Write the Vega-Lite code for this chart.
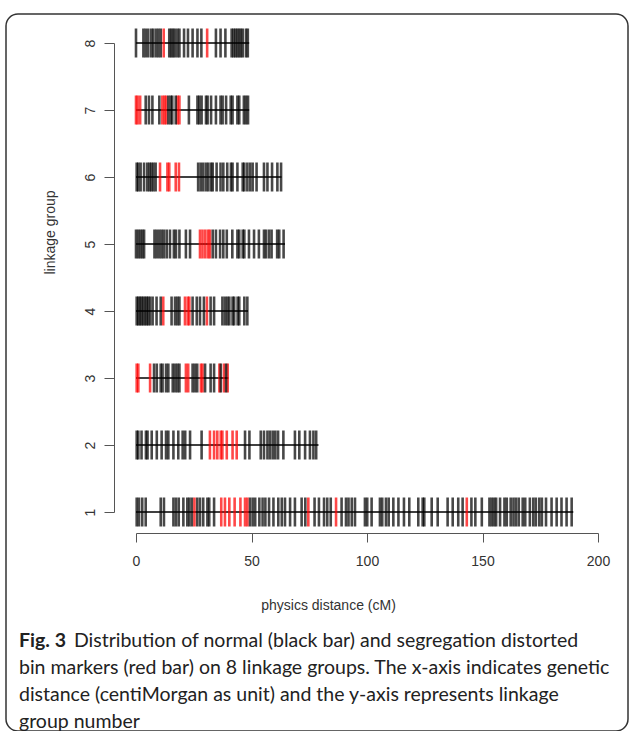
{
  "$schema": "https://vega.github.io/schema/vega-lite/v6.json",
  "autosize": {"type": "none"},
  "width": 622,
  "height": 717,
  "padding": {"left": 6, "top": 14, "right": 5, "bottom": 0},
  "background": "white",
  "config": {
    "view": {"stroke": "#333", "strokeWidth": 1.5, "cornerRadius": 12},
    "axis": {"grid": false}
  },
  "title": {
    "text": "Fig. 3",
    "subtitle": [
      "\u200b\u00a0\u00a0\u00a0\u00a0\u00a0\u00a0\u00a0\u00a0\u00a0\u00a0\u00a0Distribution of normal (black bar) and segregation distorted",
      "bin markers (red bar) on 8 linkage groups. The x-axis indicates genetic",
      "distance (centiMorgan as unit) and the y-axis represents linkage",
      "group number"
    ],
    "orient": "bottom",
    "anchor": "start",
    "frame": "group",
    "offset": -99,
    "dx": 13,
    "font": "Lato",
    "fontSize": 19.5,
    "fontWeight": "bold",
    "color": "#222",
    "subtitleFont": "Lato",
    "subtitleFontSize": 19.5,
    "subtitleFontWeight": "normal",
    "subtitleColor": "#222",
    "subtitleLineHeight": 27,
    "subtitlePadding": -19.5
  },
  "datasets": {
    "groups": [
      {"g": 1, "start": 0, "end": 189.3},
      {"g": 2, "start": 0, "end": 79},
      {"g": 3, "start": 0, "end": 40},
      {"g": 4, "start": 0, "end": 48.5},
      {"g": 5, "start": 0, "end": 64.5},
      {"g": 6, "start": 0, "end": 63},
      {"g": 7, "start": 0, "end": 49},
      {"g": 8, "start": 0, "end": 49}
    ],
    "markers": [
      {"g": 8, "x": 0, "t": "n"}, {"g": 8, "x": 3.2, "t": "n"}, {"g": 8, "x": 4.2, "t": "n"}, {"g": 8, "x": 5.3, "t": "n"}, {"g": 8, "x": 6.6, "t": "n"}, {"g": 8, "x": 7.5, "t": "n"}, {"g": 8, "x": 8.7, "t": "n"}, {"g": 8, "x": 9.7, "t": "n"}, {"g": 8, "x": 10.7, "t": "n"}, {"g": 8, "x": 14.4, "t": "n"}, {"g": 8, "x": 15.2, "t": "n"}, {"g": 8, "x": 16.0, "t": "n"}, {"g": 8, "x": 16.8, "t": "n"}, {"g": 8, "x": 17.9, "t": "n"}, {"g": 8, "x": 18.8, "t": "n"}, {"g": 8, "x": 20.8, "t": "n"}, {"g": 8, "x": 22.5, "t": "n"}, {"g": 8, "x": 24.5, "t": "n"}, {"g": 8, "x": 26.6, "t": "n"}, {"g": 8, "x": 28.3, "t": "n"}, {"g": 8, "x": 34.6, "t": "n"}, {"g": 8, "x": 36.6, "t": "n"}, {"g": 8, "x": 38.7, "t": "n"}, {"g": 8, "x": 41.4, "t": "n"}, {"g": 8, "x": 42.2, "t": "n"}, {"g": 8, "x": 43.0, "t": "n"}, {"g": 8, "x": 43.8, "t": "n"}, {"g": 8, "x": 44.6, "t": "n"}, {"g": 8, "x": 45.4, "t": "n"}, {"g": 8, "x": 46.2, "t": "n"}, {"g": 8, "x": 47.6, "t": "n"}, {"g": 8, "x": 48.4, "t": "n"},
      {"g": 8, "x": 12.0, "t": "d"}, {"g": 8, "x": 30.8, "t": "d"},
      {"g": 7, "x": 0, "t": "d"}, {"g": 7, "x": 0.7, "t": "d"}, {"g": 7, "x": 1.8, "t": "d"}, {"g": 7, "x": 11.4, "t": "d"}, {"g": 7, "x": 12.3, "t": "d"}, {"g": 7, "x": 13.0, "t": "d"}, {"g": 7, "x": 18.0, "t": "d"}, {"g": 7, "x": 18.8, "t": "d"},
      {"g": 7, "x": 4.2, "t": "n"}, {"g": 7, "x": 5.6, "t": "n"}, {"g": 7, "x": 7.1, "t": "n"}, {"g": 7, "x": 10.1, "t": "n"}, {"g": 7, "x": 14.0, "t": "n"}, {"g": 7, "x": 15.0, "t": "n"}, {"g": 7, "x": 15.7, "t": "n"}, {"g": 7, "x": 17.2, "t": "n"}, {"g": 7, "x": 22.9, "t": "n"}, {"g": 7, "x": 26.6, "t": "n"}, {"g": 7, "x": 27.4, "t": "n"}, {"g": 7, "x": 28.4, "t": "n"}, {"g": 7, "x": 30.3, "t": "n"}, {"g": 7, "x": 31.0, "t": "n"}, {"g": 7, "x": 32.5, "t": "n"}, {"g": 7, "x": 34.6, "t": "n"}, {"g": 7, "x": 36.6, "t": "n"}, {"g": 7, "x": 37.5, "t": "n"}, {"g": 7, "x": 39.0, "t": "n"}, {"g": 7, "x": 41.0, "t": "n"}, {"g": 7, "x": 41.8, "t": "n"}, {"g": 7, "x": 43.9, "t": "n"}, {"g": 7, "x": 44.7, "t": "n"}, {"g": 7, "x": 46.7, "t": "n"}, {"g": 7, "x": 47.6, "t": "n"}, {"g": 7, "x": 48.5, "t": "n"},
      {"g": 6, "x": 0.3, "t": "n"}, {"g": 6, "x": 1.0, "t": "n"}, {"g": 6, "x": 2.0, "t": "n"}, {"g": 6, "x": 3.5, "t": "n"}, {"g": 6, "x": 4.9, "t": "n"}, {"g": 6, "x": 5.8, "t": "n"}, {"g": 6, "x": 6.6, "t": "n"}, {"g": 6, "x": 7.5, "t": "n"}, {"g": 6, "x": 8.5, "t": "n"}, {"g": 6, "x": 26.9, "t": "n"}, {"g": 6, "x": 28.0, "t": "n"}, {"g": 6, "x": 29.1, "t": "n"}, {"g": 6, "x": 30.3, "t": "n"}, {"g": 6, "x": 31.3, "t": "n"}, {"g": 6, "x": 32.5, "t": "n"}, {"g": 6, "x": 33.2, "t": "n"}, {"g": 6, "x": 34.9, "t": "n"}, {"g": 6, "x": 36.6, "t": "n"}, {"g": 6, "x": 37.8, "t": "n"}, {"g": 6, "x": 39.5, "t": "n"}, {"g": 6, "x": 41.1, "t": "n"}, {"g": 6, "x": 41.8, "t": "n"}, {"g": 6, "x": 43.9, "t": "n"}, {"g": 6, "x": 46.2, "t": "n"}, {"g": 6, "x": 46.9, "t": "n"}, {"g": 6, "x": 48.2, "t": "n"}, {"g": 6, "x": 49.4, "t": "n"}, {"g": 6, "x": 50.5, "t": "n"}, {"g": 6, "x": 52.2, "t": "n"}, {"g": 6, "x": 55.4, "t": "n"}, {"g": 6, "x": 56.9, "t": "n"}, {"g": 6, "x": 58.9, "t": "n"}, {"g": 6, "x": 61.2, "t": "n"}, {"g": 6, "x": 62.8, "t": "n"},
      {"g": 6, "x": 10.4, "t": "d"}, {"g": 6, "x": 13.6, "t": "d"}, {"g": 6, "x": 14.4, "t": "d"}, {"g": 6, "x": 17.2, "t": "d"}, {"g": 6, "x": 18.6, "t": "d"},
      {"g": 5, "x": 0, "t": "n"}, {"g": 5, "x": 0.9, "t": "n"}, {"g": 5, "x": 1.8, "t": "n"}, {"g": 5, "x": 2.7, "t": "n"}, {"g": 5, "x": 3.5, "t": "n"}, {"g": 5, "x": 8.0, "t": "n"}, {"g": 5, "x": 9.0, "t": "n"}, {"g": 5, "x": 10.1, "t": "n"}, {"g": 5, "x": 11.1, "t": "n"}, {"g": 5, "x": 12.1, "t": "n"}, {"g": 5, "x": 13.3, "t": "n"}, {"g": 5, "x": 14.7, "t": "n"}, {"g": 5, "x": 16.4, "t": "n"}, {"g": 5, "x": 17.3, "t": "n"}, {"g": 5, "x": 18.8, "t": "n"}, {"g": 5, "x": 21.6, "t": "n"}, {"g": 5, "x": 23.4, "t": "n"}, {"g": 5, "x": 33.2, "t": "n"}, {"g": 5, "x": 34.6, "t": "n"}, {"g": 5, "x": 36.4, "t": "n"}, {"g": 5, "x": 37.8, "t": "n"}, {"g": 5, "x": 39.3, "t": "n"}, {"g": 5, "x": 41.7, "t": "n"}, {"g": 5, "x": 43.9, "t": "n"}, {"g": 5, "x": 44.7, "t": "n"}, {"g": 5, "x": 46.2, "t": "n"}, {"g": 5, "x": 46.9, "t": "n"}, {"g": 5, "x": 48.9, "t": "n"}, {"g": 5, "x": 51.1, "t": "n"}, {"g": 5, "x": 53.2, "t": "n"}, {"g": 5, "x": 55.4, "t": "n"}, {"g": 5, "x": 56.3, "t": "n"}, {"g": 5, "x": 57.6, "t": "n"}, {"g": 5, "x": 58.7, "t": "n"}, {"g": 5, "x": 61.1, "t": "n"}, {"g": 5, "x": 62.0, "t": "n"}, {"g": 5, "x": 63.9, "t": "n"},
      {"g": 5, "x": 27.7, "t": "d"}, {"g": 5, "x": 28.8, "t": "d"}, {"g": 5, "x": 30.0, "t": "d"}, {"g": 5, "x": 31.2, "t": "d"}, {"g": 5, "x": 32.0, "t": "d"},
      {"g": 4, "x": 0.3, "t": "n"}, {"g": 4, "x": 1.0, "t": "n"}, {"g": 4, "x": 1.7, "t": "n"}, {"g": 4, "x": 2.4, "t": "n"}, {"g": 4, "x": 3.1, "t": "n"}, {"g": 4, "x": 3.9, "t": "n"}, {"g": 4, "x": 4.6, "t": "n"}, {"g": 4, "x": 5.3, "t": "n"}, {"g": 4, "x": 6.1, "t": "n"}, {"g": 4, "x": 7.2, "t": "n"}, {"g": 4, "x": 8.9, "t": "n"}, {"g": 4, "x": 10.7, "t": "n"}, {"g": 4, "x": 15.4, "t": "n"}, {"g": 4, "x": 16.9, "t": "n"}, {"g": 4, "x": 17.9, "t": "n"}, {"g": 4, "x": 18.8, "t": "n"}, {"g": 4, "x": 24.5, "t": "n"}, {"g": 4, "x": 26.3, "t": "n"}, {"g": 4, "x": 27.7, "t": "n"}, {"g": 4, "x": 29.4, "t": "n"}, {"g": 4, "x": 32.3, "t": "n"}, {"g": 4, "x": 33.8, "t": "n"}, {"g": 4, "x": 37.4, "t": "n"}, {"g": 4, "x": 38.5, "t": "n"}, {"g": 4, "x": 39.5, "t": "n"}, {"g": 4, "x": 40.4, "t": "n"}, {"g": 4, "x": 41.8, "t": "n"}, {"g": 4, "x": 42.5, "t": "n"}, {"g": 4, "x": 44.0, "t": "n"}, {"g": 4, "x": 44.7, "t": "n"}, {"g": 4, "x": 46.9, "t": "n"}, {"g": 4, "x": 48.2, "t": "n"},
      {"g": 4, "x": 11.8, "t": "d"}, {"g": 4, "x": 21.2, "t": "d"}, {"g": 4, "x": 22.4, "t": "d"}, {"g": 4, "x": 23.1, "t": "d"}, {"g": 4, "x": 30.7, "t": "d"},
      {"g": 3, "x": 0.3, "t": "d"}, {"g": 3, "x": 1.0, "t": "d"}, {"g": 3, "x": 6.1, "t": "d"}, {"g": 3, "x": 21.6, "t": "d"}, {"g": 3, "x": 22.6, "t": "d"}, {"g": 3, "x": 28.1, "t": "d"}, {"g": 3, "x": 28.8, "t": "d"}, {"g": 3, "x": 36.1, "t": "d"}, {"g": 3, "x": 38.1, "t": "d"}, {"g": 3, "x": 39.7, "t": "d"},
      {"g": 3, "x": 7.8, "t": "n"}, {"g": 3, "x": 9.0, "t": "n"}, {"g": 3, "x": 10.7, "t": "n"}, {"g": 3, "x": 11.5, "t": "n"}, {"g": 3, "x": 13.0, "t": "n"}, {"g": 3, "x": 14.0, "t": "n"}, {"g": 3, "x": 15.9, "t": "n"}, {"g": 3, "x": 16.9, "t": "n"}, {"g": 3, "x": 17.9, "t": "n"}, {"g": 3, "x": 18.8, "t": "n"}, {"g": 3, "x": 24.5, "t": "n"}, {"g": 3, "x": 25.5, "t": "n"}, {"g": 3, "x": 26.5, "t": "n"}, {"g": 3, "x": 29.9, "t": "n"}, {"g": 3, "x": 32.3, "t": "n"}, {"g": 3, "x": 33.8, "t": "n"}, {"g": 3, "x": 36.7, "t": "n"}, {"g": 3, "x": 39.0, "t": "n"},
      {"g": 2, "x": 0.3, "t": "n"}, {"g": 2, "x": 1.0, "t": "n"}, {"g": 2, "x": 2.4, "t": "n"}, {"g": 2, "x": 4.3, "t": "n"}, {"g": 2, "x": 5.0, "t": "n"}, {"g": 2, "x": 6.8, "t": "n"}, {"g": 2, "x": 9.0, "t": "n"}, {"g": 2, "x": 11.1, "t": "n"}, {"g": 2, "x": 13.0, "t": "n"}, {"g": 2, "x": 14.0, "t": "n"}, {"g": 2, "x": 16.2, "t": "n"}, {"g": 2, "x": 18.3, "t": "n"}, {"g": 2, "x": 20.2, "t": "n"}, {"g": 2, "x": 21.3, "t": "n"}, {"g": 2, "x": 23.4, "t": "n"}, {"g": 2, "x": 28.4, "t": "n"}, {"g": 2, "x": 47.2, "t": "n"}, {"g": 2, "x": 49.1, "t": "n"}, {"g": 2, "x": 54.0, "t": "n"}, {"g": 2, "x": 55.4, "t": "n"}, {"g": 2, "x": 56.9, "t": "n"}, {"g": 2, "x": 58.0, "t": "n"}, {"g": 2, "x": 59.2, "t": "n"}, {"g": 2, "x": 60.3, "t": "n"}, {"g": 2, "x": 61.5, "t": "n"}, {"g": 2, "x": 63.8, "t": "n"}, {"g": 2, "x": 68.8, "t": "n"}, {"g": 2, "x": 70.7, "t": "n"}, {"g": 2, "x": 73.2, "t": "n"}, {"g": 2, "x": 75.3, "t": "n"}, {"g": 2, "x": 76.8, "t": "n"}, {"g": 2, "x": 78.0, "t": "n"},
      {"g": 2, "x": 32.0, "t": "d"}, {"g": 2, "x": 33.8, "t": "d"}, {"g": 2, "x": 35.2, "t": "d"}, {"g": 2, "x": 36.7, "t": "d"}, {"g": 2, "x": 37.4, "t": "d"}, {"g": 2, "x": 39.3, "t": "d"}, {"g": 2, "x": 41.8, "t": "d"}, {"g": 2, "x": 43.6, "t": "d"},
      {"g": 1, "x": 0.3, "t": "n"}, {"g": 1, "x": 1.3, "t": "n"}, {"g": 1, "x": 2.7, "t": "n"}, {"g": 1, "x": 4.2, "t": "n"}, {"g": 1, "x": 10.7, "t": "n"}, {"g": 1, "x": 12.1, "t": "n"}, {"g": 1, "x": 16.2, "t": "n"}, {"g": 1, "x": 17.3, "t": "n"}, {"g": 1, "x": 18.5, "t": "n"}, {"g": 1, "x": 20.5, "t": "n"}, {"g": 1, "x": 22.2, "t": "n"}, {"g": 1, "x": 23.1, "t": "n"}, {"g": 1, "x": 24.2, "t": "n"}, {"g": 1, "x": 26.5, "t": "n"}, {"g": 1, "x": 27.7, "t": "n"}, {"g": 1, "x": 29.1, "t": "n"}, {"g": 1, "x": 30.9, "t": "n"}, {"g": 1, "x": 31.7, "t": "n"}, {"g": 1, "x": 33.8, "t": "n"}, {"g": 1, "x": 49.3, "t": "n"}, {"g": 1, "x": 50.5, "t": "n"}, {"g": 1, "x": 51.6, "t": "n"}, {"g": 1, "x": 53.4, "t": "n"}, {"g": 1, "x": 54.8, "t": "n"}, {"g": 1, "x": 56.0, "t": "n"}, {"g": 1, "x": 57.6, "t": "n"}, {"g": 1, "x": 59.5, "t": "n"}, {"g": 1, "x": 61.6, "t": "n"}, {"g": 1, "x": 63.1, "t": "n"}, {"g": 1, "x": 64.5, "t": "n"}, {"g": 1, "x": 66.7, "t": "n"}, {"g": 1, "x": 68.8, "t": "n"}, {"g": 1, "x": 71.7, "t": "n"}, {"g": 1, "x": 73.3, "t": "n"}, {"g": 1, "x": 77.3, "t": "n"}, {"g": 1, "x": 79.2, "t": "n"}, {"g": 1, "x": 81.4, "t": "n"}, {"g": 1, "x": 82.8, "t": "n"}, {"g": 1, "x": 84.3, "t": "n"}, {"g": 1, "x": 89.0, "t": "n"}, {"g": 1, "x": 90.9, "t": "n"}, {"g": 1, "x": 92.0, "t": "n"}, {"g": 1, "x": 93.4, "t": "n"}, {"g": 1, "x": 94.8, "t": "n"}, {"g": 1, "x": 99.1, "t": "n"}, {"g": 1, "x": 100.1, "t": "n"}, {"g": 1, "x": 102.0, "t": "n"}, {"g": 1, "x": 105.6, "t": "n"}, {"g": 1, "x": 106.6, "t": "n"}, {"g": 1, "x": 108.2, "t": "n"}, {"g": 1, "x": 109.4, "t": "n"}, {"g": 1, "x": 111.4, "t": "n"}, {"g": 1, "x": 113.6, "t": "n"}, {"g": 1, "x": 116.0, "t": "n"}, {"g": 1, "x": 118.3, "t": "n"}, {"g": 1, "x": 122.2, "t": "n"}, {"g": 1, "x": 124.1, "t": "n"}, {"g": 1, "x": 124.8, "t": "n"}, {"g": 1, "x": 128.0, "t": "n"}, {"g": 1, "x": 130.6, "t": "n"}, {"g": 1, "x": 134.9, "t": "n"}, {"g": 1, "x": 137.1, "t": "n"}, {"g": 1, "x": 139.5, "t": "n"}, {"g": 1, "x": 141.4, "t": "n"}, {"g": 1, "x": 145.2, "t": "n"}, {"g": 1, "x": 146.9, "t": "n"}, {"g": 1, "x": 149.7, "t": "n"}, {"g": 1, "x": 153.0, "t": "n"}, {"g": 1, "x": 154.0, "t": "n"}, {"g": 1, "x": 155.0, "t": "n"}, {"g": 1, "x": 155.9, "t": "n"}, {"g": 1, "x": 157.6, "t": "n"}, {"g": 1, "x": 159.5, "t": "n"}, {"g": 1, "x": 160.5, "t": "n"}, {"g": 1, "x": 162.2, "t": "n"}, {"g": 1, "x": 163.4, "t": "n"}, {"g": 1, "x": 164.5, "t": "n"}, {"g": 1, "x": 165.7, "t": "n"}, {"g": 1, "x": 167.4, "t": "n"}, {"g": 1, "x": 168.5, "t": "n"}, {"g": 1, "x": 170.5, "t": "n"}, {"g": 1, "x": 172.0, "t": "n"}, {"g": 1, "x": 173.1, "t": "n"}, {"g": 1, "x": 174.6, "t": "n"}, {"g": 1, "x": 175.7, "t": "n"}, {"g": 1, "x": 177.5, "t": "n"}, {"g": 1, "x": 179.9, "t": "n"}, {"g": 1, "x": 182.1, "t": "n"}, {"g": 1, "x": 184.2, "t": "n"}, {"g": 1, "x": 186.4, "t": "n"}, {"g": 1, "x": 188.6, "t": "n"},
      {"g": 1, "x": 25.3, "t": "d"}, {"g": 1, "x": 36.9, "t": "d"}, {"g": 1, "x": 38.5, "t": "d"}, {"g": 1, "x": 40.4, "t": "d"}, {"g": 1, "x": 42.7, "t": "d"}, {"g": 1, "x": 45.2, "t": "d"}, {"g": 1, "x": 47.2, "t": "d"}, {"g": 1, "x": 48.2, "t": "d"}, {"g": 1, "x": 74.6, "t": "d"}, {"g": 1, "x": 86.6, "t": "d"}, {"g": 1, "x": 143.2, "t": "d"}
    ]
  },
  "layer": [
    {
      "data": {"name": "groups"},
      "mark": {"type": "rule", "color": "#000", "strokeWidth": 1.3},
      "encoding": {
        "x": {
          "field": "start", "type": "quantitative",
          "scale": {"domain": [0, 200], "range": [130, 592], "nice": false, "zero": false},
          "axis": {
            "orient": "bottom", "offset": -198, "values": [0, 50, 100, 150, 200],
            "title": "physics distance (cM)", "titleX": 322, "titleY": 65,
            "titleAlign": "center", "titleBaseline": "top",
            "titleFont": "Liberation Sans", "titleFontSize": 14, "titleFontWeight": "normal", "titleColor": "#333",
            "labelFont": "Liberation Sans", "labelFontSize": 14, "labelColor": "#333",
            "labelPadding": 12, "tickSize": 9, "tickColor": "#555", "domainColor": "#555",
            "labelFlush": false, "labelOverlap": false
          }
        },
        "x2": {"field": "end"},
        "y": {
          "field": "g", "type": "quantitative",
          "scale": {"domain": [1, 8], "range": [498, 29], "nice": false, "zero": false},
          "axis": {
            "orient": "left", "offset": -108, "values": [1, 2, 3, 4, 5, 6, 7, 8], "format": "d",
            "labelAngle": 270, "labelAlign": "center", "labelBaseline": "bottom",
            "labelFont": "Liberation Sans", "labelFontSize": 14, "labelColor": "#333", "labelPadding": 7,
            "tickSize": 10, "tickColor": "#555", "domainColor": "#555",
            "title": "linkage group", "titleX": -64, "titleY": 218, "titleAngle": 270,
            "titleAlign": "center", "titleBaseline": "middle",
            "titleFont": "Liberation Sans", "titleFontSize": 14, "titleFontWeight": "normal", "titleColor": "#333",
            "labelFlush": false, "labelOverlap": false
          }
        }
      }
    },
    {
      "data": {"name": "markers"},
      "mark": {"type": "tick", "orient": "vertical", "size": 29, "thickness": 2.6, "opacity": 0.72},
      "encoding": {
        "x": {"field": "x", "type": "quantitative"},
        "y": {"field": "g", "type": "quantitative"},
        "color": {
          "field": "t", "type": "nominal",
          "scale": {"domain": ["n", "d"], "range": ["#000000", "#ff0000"]},
          "legend": null
        }
      }
    }
  ]
}
